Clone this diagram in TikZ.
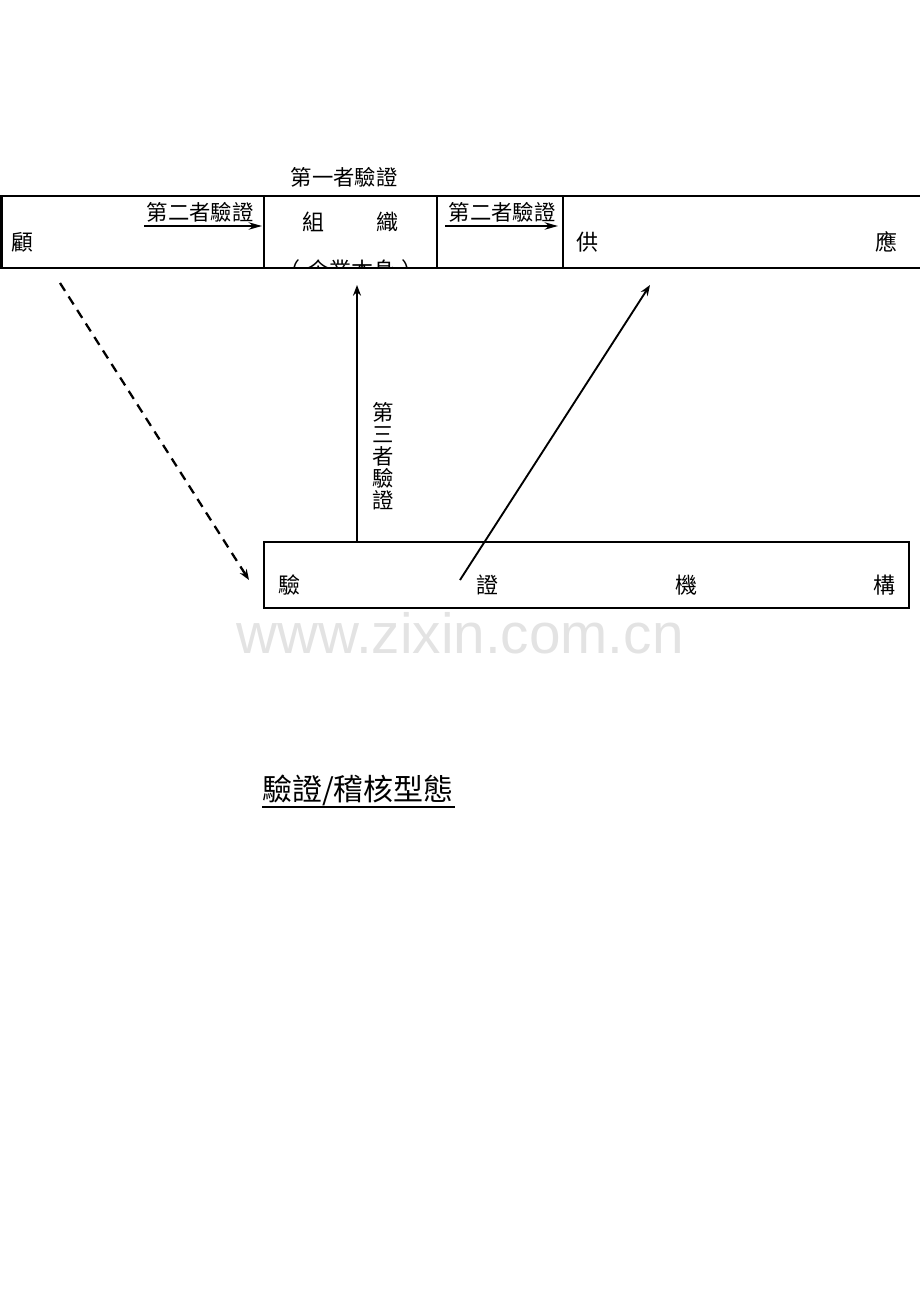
\documentclass[tikz,border=0pt]{standalone}
\usepackage{fontspec}
\setmainfont{Liberation Sans}
\newfontfamily\cjk{Noto Sans CJK TC}
\usetikzlibrary{arrows.meta}
\begin{document}
\begin{tikzpicture}[x=0.75pt,y=-0.75pt,
  box/.style={draw, line width=1.6pt},
  lbl/.style={font=\cjk\fontsize{16}{16}\selectfont, inner sep=0pt},
  big/.style={font=\cjk\fontsize{16.5}{17}\selectfont, inner sep=0pt},
  arr/.style={line width=1.6pt, -{Stealth[length=10pt,width=5.5pt]}},
  varr/.style={line width=1.4pt, -{Stealth[length=8pt,width=6pt]}},
  darr/.style={line width=1.7pt, dash pattern=on 7pt off 5pt, -{Stealth[length=8pt,width=6pt]}},
]
\useasboundingbox (0,0) rectangle (920,1302);
\clip (0,0) rectangle (920,1302);

% top row boxes
\draw[box] (1.5,196) rectangle (264,268);
\draw[box] (264,196) rectangle (437,268);
\draw[box] (437,196) rectangle (563,268);
\draw[box] (935,196) -- (563,196) -- (563,268) -- (935,268);

% bottom box
\draw[box] (264,542) rectangle (909,608);

% texts in top row
\node[lbl] (first) at (344,177) {第一者驗證};
\node[lbl] (sec1) at (200,212) {第二者驗證};
\node[lbl] (sec2) at (502,212) {第二者驗證};
\node[big] (gu) at (23,242) {顧};
\node[big] (zu) at (313,222) {組};
\node[big] (zhi) at (387,222) {織};
\node[big] (gong) at (587,242) {供};
\node[big] (ying) at (886,242) {應};
\begin{scope}
  \clip (264,196) rectangle (437,267);
  \node[big] (self) at (351,270) {（\hspace{5pt}企業本身\hspace{5pt}）};
\end{scope}

% bottom box texts
\node[big] (b1) at (289,585) {驗};
\node[big] (b2) at (487,585) {證};
\node[big] (b3) at (686,585) {機};
\node[big] (b4) at (884,585) {構};

% vertical label
\node[lbl, align=center, font=\cjk\fontsize{16}{16.5}\selectfont] (third) at (383,456) {第\\三\\者\\驗\\證};

% coordinates
\coordinate (a1s) at (144,226);
\coordinate (a1e) at (262,226);
\coordinate (a2s) at (445,226);
\coordinate (a2e) at (558,226);
\coordinate (vs) at (357,542);
\coordinate (ve) at (357,285);
\coordinate (ds) at (460,580);
\coordinate (de) at (650,285);
\coordinate (dashs) at (60,283);
\coordinate (dashe) at (249,580);

\draw[arr] (a1s) -- (a1e);
\draw[arr] (a2s) -- (a2e);
\draw[varr] (vs) -- (ve);
\draw[varr] (ds) -- (de);
\draw[darr] (dashs) -- (dashe);

% watermark
\node[font=\fontsize{42.5}{43}\selectfont, text=black!11, inner sep=0pt] (wm) at (460,633) {www.zixin.com.cn};

% title
\node[font=\cjk\fontsize{22.5}{23}\selectfont, inner sep=0pt] (title) at (358,790) {驗證/稽核型態};
\draw[line width=1.5pt] (262,807) -- (455,807);
\end{tikzpicture}
\end{document}
